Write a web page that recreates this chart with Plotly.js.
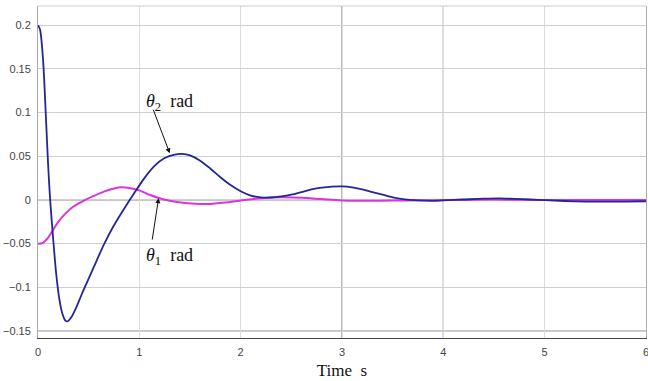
<!DOCTYPE html>
<html><head><meta charset="utf-8">
<script src="https://cdn.plot.ly/plotly-3.0.1.min.js"></script>
<style>html,body{margin:0;padding:0;background:#fff}#chart{width:648px;height:381px}</style>
</head><body><div id="chart"></div>
<script>
const theta2T = [0,0.02,0.05,0.08,0.1,0.12,0.15,0.18,0.21,0.24,0.27,0.29,0.33,0.37,0.41,0.45,0.55,0.65,0.75,0.85,0.95,1.05,1.15,1.25,1.35,1.42,1.5,1.6,1.7,1.8,1.9,2.0,2.1,2.2,2.3,2.4,2.5,2.6,2.7,2.8,2.9,3.0,3.1,3.2,3.3,3.4,3.5,3.6,3.75,3.9,4.0,4.2,4.4,4.55,4.7,4.85,5.0,5.2,5.4,5.6,5.8,6.0];
const theta2V = [0.2,0.195,0.16,0.09,0.04,0.0,-0.045,-0.085,-0.113,-0.13,-0.138,-0.139,-0.134,-0.125,-0.114,-0.103,-0.077,-0.051,-0.029,-0.01,0.008,0.025,0.039,0.048,0.052,0.0527,0.051,0.045,0.036,0.026,0.017,0.010,0.005,0.003,0.0028,0.004,0.006,0.009,0.012,0.014,0.0152,0.0155,0.0145,0.012,0.009,0.006,0.003,0.001,-0.0005,-0.001,-0.0005,0.0005,0.0015,0.0018,0.0012,0.0005,-0.0003,-0.0012,-0.0018,-0.002,-0.0018,-0.0015];
const theta1T = [0,0.05,0.1,0.15,0.2,0.28,0.35,0.44,0.55,0.65,0.75,0.82,0.9,1.0,1.1,1.2,1.3,1.45,1.6,1.7,1.85,2.0,2.2,2.4,2.6,2.8,3.0,3.3,3.6,4.0,4.5,5.0,5.5,6.0];
const theta1V = [-0.05,-0.049,-0.043,-0.034,-0.025,-0.0145,-0.0075,-0.0015,0.0045,0.0095,0.0132,0.0145,0.0138,0.011,0.006,0.002,-0.001,-0.0035,-0.0045,-0.0045,-0.003,-0.0005,0.002,0.003,0.0025,0.001,-0.0005,-0.001,-0.0005,0,0.0005,0,0,0];
const xTicks = [0,1,2,3,4,5,6];
const yTicks = [-0.15,-0.1,-0.05,0,0.05,0.1,0.15,0.2];
const yTickText = ['−0.15','−0.1','−0.05','0','0.05','0.1','0.15','0.2'];

const traces = [
  {x: theta1T, y: theta1V, mode:'lines', line:{color:'#dd33dd', width:2, shape:'spline', smoothing:0.9}, hoverinfo:'skip'},
  {x: theta2T, y: theta2V, mode:'lines', line:{color:'#25259a', width:1.8, shape:'spline', smoothing:0.8}, hoverinfo:'skip'}
];
const serif = 'Liberation Serif, Times New Roman, serif';
const darkGrid = {type:'line', line:{color:'#8c8c8c', width:1.2}, layer:'below'};
const layout = {
  width:648, height:381,
  margin:{l:38, r:2, t:6, b:43},
  paper_bgcolor:'#fff', plot_bgcolor:'#fff',
  showlegend:false,
  font:{family:'Liberation Sans, Arial, sans-serif', size:11, color:'#444'},
  xaxis:{range:[0,6], tickvals:xTicks, ticktext:xTicks.map(String), showgrid:true, gridcolor:'#dddddd', zeroline:false,
         showline:true, linecolor:'#444', linewidth:1, ticks:'', ticklabelstandoff:4, ticklabeloverflow:'allow',
         title:{text:'Time  s', font:{family:serif, size:17, color:'#111'}, standoff:6}},
  yaxis:{range:[-0.158,0.222], tickvals:yTicks, ticktext:yTickText,
         showgrid:true, gridcolor:'#cfcfcf', zeroline:false, showline:true, mirror:true, linecolor:'#aaa', ticks:'', ticklabelstandoff:4},
  shapes:[
    Object.assign({xref:'x', yref:'paper', x0:3, x1:3, y0:0, y1:1}, darkGrid),
    Object.assign({xref:'x', yref:'paper', x0:4, x1:4, y0:0, y1:1}, darkGrid),
    Object.assign({xref:'paper', yref:'y', x0:0, x1:1, y0:0, y1:0}, darkGrid),
    Object.assign({xref:'paper', yref:'y', x0:0, x1:1, y0:-0.15, y1:-0.15}, darkGrid),
    {type:'line', xref:'paper', yref:'paper', x0:0, x1:1, y0:1, y1:1, line:{color:'#ccc', width:1}}
  ],
  annotations:[
    {x:1.30, y:0.0535, ax:1.132, ay:0.105, axref:'x', ayref:'y', xref:'x', yref:'y', text:'', showarrow:true, arrowhead:2, arrowsize:1, arrowwidth:1, arrowcolor:'#111', standoff:0, startstandoff:0},
    {x:1.19, y:0.002, ax:1.125, ay:-0.047, axref:'x', ayref:'y', xref:'x', yref:'y', text:'', showarrow:true, arrowhead:2, arrowsize:1, arrowwidth:1, arrowcolor:'#111', standoff:0, startstandoff:0},
    {x:1.30, y:0.112, xref:'x', yref:'y', text:'<i>θ</i><sub>2</sub>  rad', showarrow:false, font:{family:serif, size:18, color:'#111'}},
    {x:1.30, y:-0.065, xref:'x', yref:'y', text:'<i>θ</i><sub>1</sub>  rad', showarrow:false, font:{family:serif, size:18, color:'#111'}}
  ]
};
Plotly.newPlot('chart', traces, layout, {staticPlot:true, displayModeBar:false});
</script></body></html>
